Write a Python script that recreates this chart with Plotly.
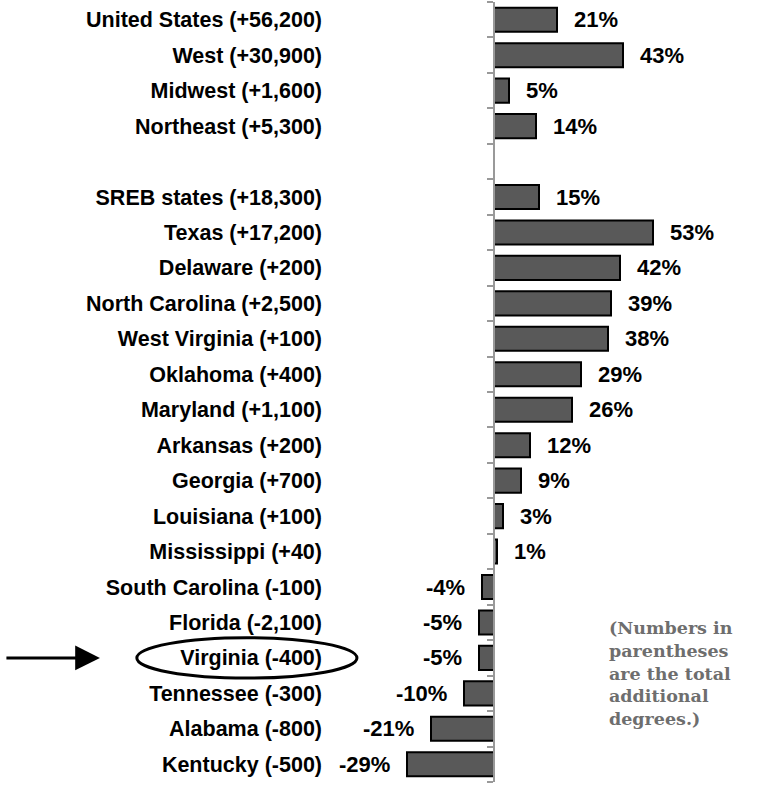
import plotly.graph_objects as go

categories = ["United States (+56,200)", "West (+30,900)", "Midwest (+1,600)", "Northeast (+5,300)",
              "",
              "SREB states (+18,300)", "Texas (+17,200)", "Delaware (+200)", "North Carolina (+2,500)",
              "West Virginia (+100)", "Oklahoma (+400)", "Maryland (+1,100)", "Arkansas (+200)",
              "Georgia (+700)", "Louisiana (+100)", "Mississippi (+40)", "South Carolina (-100)",
              "Florida (-2,100)", "Virginia (-400)", "Tennessee (-300)", "Alabama (-800)", "Kentucky (-500)"]
values = [21, 43, 5, 14, None, 15, 53, 42, 39, 38, 29, 26, 12, 9, 3, 1, -4, -5, -5, -10, -21, -29]
value_labels = [f"{v}%" if v is not None else "" for v in values]
highlight = "Virginia (-400)"
note_lines = ["(Numbers in", "parentheses", "are the total", "additional", "degrees.)"]

n = len(categories)
pos = list(range(n))
x_range = [-55, 60]
zero_frac = (0 - x_range[0]) / (x_range[1] - x_range[0])

fig = go.Figure()
fig.add_trace(go.Bar(
    x=values, y=pos, orientation="h", width=0.68,
    marker=dict(color="#595959", line=dict(color="black", width=2)),
    hoverinfo="skip", showlegend=False,
))
fig.add_trace(go.Scatter(
    x=[v if v is not None else 0 for v in values], y=pos, yaxis="y2", mode="markers",
    marker=dict(opacity=0), hoverinfo="skip", showlegend=False,
))

font_main = dict(family="Liberation Sans, Arial, sans-serif", size=21.5, color="black")
font_val = dict(family="Liberation Sans, Arial, sans-serif", size=22, color="black")

for p, v, lab in zip(pos, values, value_labels):
    if v is None:
        continue
    fig.add_annotation(
        x=v, y=p, xref="x", yref="y", text=f"<b>{lab}</b>", showarrow=False,
        xanchor="left" if v >= 0 else "right", xshift=15 if v >= 0 else -15,
        font=font_val,
    )

hi = categories.index(highlight)
fig.add_shape(type="circle", xref="paper", yref="y",
              x0=-0.557, x1=0.081, y0=hi - 0.57, y1=hi + 0.57,
              line=dict(color="black", width=3))
fig.add_annotation(x=-0.664, y=hi, xref="paper", yref="y", ax=-95, ay=0,
                   text="", showarrow=True, arrowhead=2, arrowwidth=3, arrowsize=1.65,
                   arrowcolor="black")
fig.add_annotation(x=0.807, y=18.45, xref="paper", yref="y",
                   text="<b>" + "<br>".join(note_lines) + "</b>", showarrow=False,
                   xanchor="left", yanchor="middle", align="left",
                   font=dict(family="DejaVu Serif, Georgia, serif", size=17.5, color="#6e6e6e"))

fig.update_layout(
    width=765, height=785,
    margin=dict(l=329, r=91, t=2, b=3),
    plot_bgcolor="white", paper_bgcolor="white",
    font=font_main,
    xaxis=dict(range=x_range, showgrid=False, zeroline=False, showticklabels=False,
               showline=False, fixedrange=True),
    yaxis=dict(range=[n - 0.5, -0.5], tickvals=pos,
               ticktext=[f"<b>{c}</b>" if c else "" for c in categories],
               showgrid=False, zeroline=False, showline=False, ticks="",
               ticklabelstandoff=6, tickfont=font_main),
    yaxis2=dict(range=[n - 0.5, -0.5], overlaying="y", anchor="free", position=zero_frac,
                side="left", tickvals=[p - 0.5 for p in pos] + [n - 0.5],
                showticklabels=False, ticks="outside", ticklen=6, tickcolor="#999999",
                tickwidth=2, showline=True, linecolor="#999999", linewidth=2,
                showgrid=False, zeroline=False),
)

fig.write_html("out.html", config={"displayModeBar": False},
               post_script="document.body.style.margin='0';")
